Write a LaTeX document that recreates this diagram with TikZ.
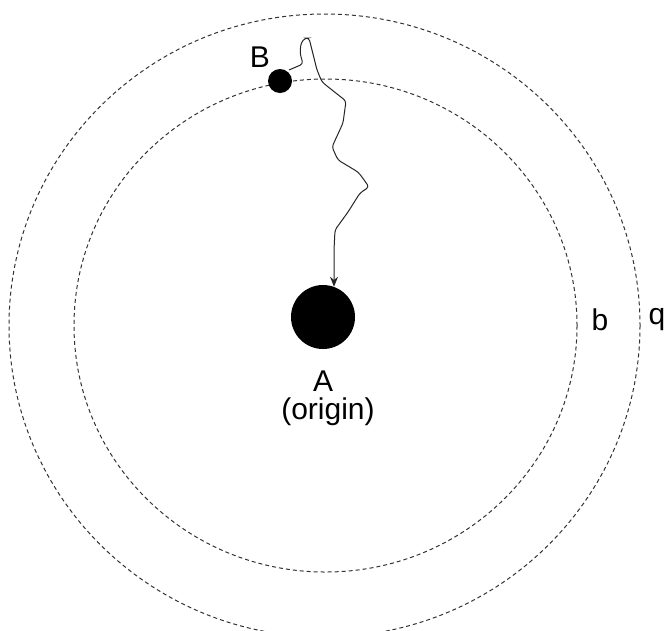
\documentclass[tikz,border=0pt]{standalone}
\usepackage{fontspec}
\setmainfont{Liberation Sans}
\usetikzlibrary{arrows.meta}
\begin{document}
\begin{tikzpicture}[x=1pt,y=-1pt,
  orbit/.style={draw=black!80,line width=1pt,dash pattern=on 4pt off 3pt},
  ball/.style={circle,fill=black,inner sep=0pt},
  lbl/.style={font=\fontsize{30}{35}\selectfont,inner sep=0pt,align=center},
  walk/.style={draw=black!85,line width=1pt,rounded corners=3pt,-{Stealth[length=10pt,width=8pt]}}]
\useasboundingbox (0,0) rectangle (668,630);
\fill[white] (0,0) rectangle (668,630);
\draw[orbit] (324.5,325.5) ellipse [x radius=315.5, y radius=311.5];
\draw[orbit] (325.5,325.5) ellipse [x radius=251.5, y radius=246.5];
\node[ball,minimum size=64pt] (A) at (323,317) {};
\node[ball,minimum size=24pt] (B) at (280,81) {};
\node[lbl] (Al) at (323,381) {A};
\node[lbl] (Ao) at (328,412) {(origin)};
\node[lbl] (Bl) at (260,57) {B};
\node[lbl] (bl) at (600,320) {b};
\node[lbl] (ql) at (657,320) {q};
\coordinate (s) at (289,70);
\draw[walk] (s) -- (303,64) -- (300,53) -- (301,43) -- (305,38) -- (309,38) -- (312,50) -- (317,70)
  -- (322,82) -- (332,90) -- (346,101) -- (343,123) -- (332,147) -- (338,160) -- (358,172)
  -- (362,177) -- (369,187) -- (360,193) -- (348,212) -- (335,230) -- (334,250) -- (A.70);
\end{tikzpicture}
\end{document}
